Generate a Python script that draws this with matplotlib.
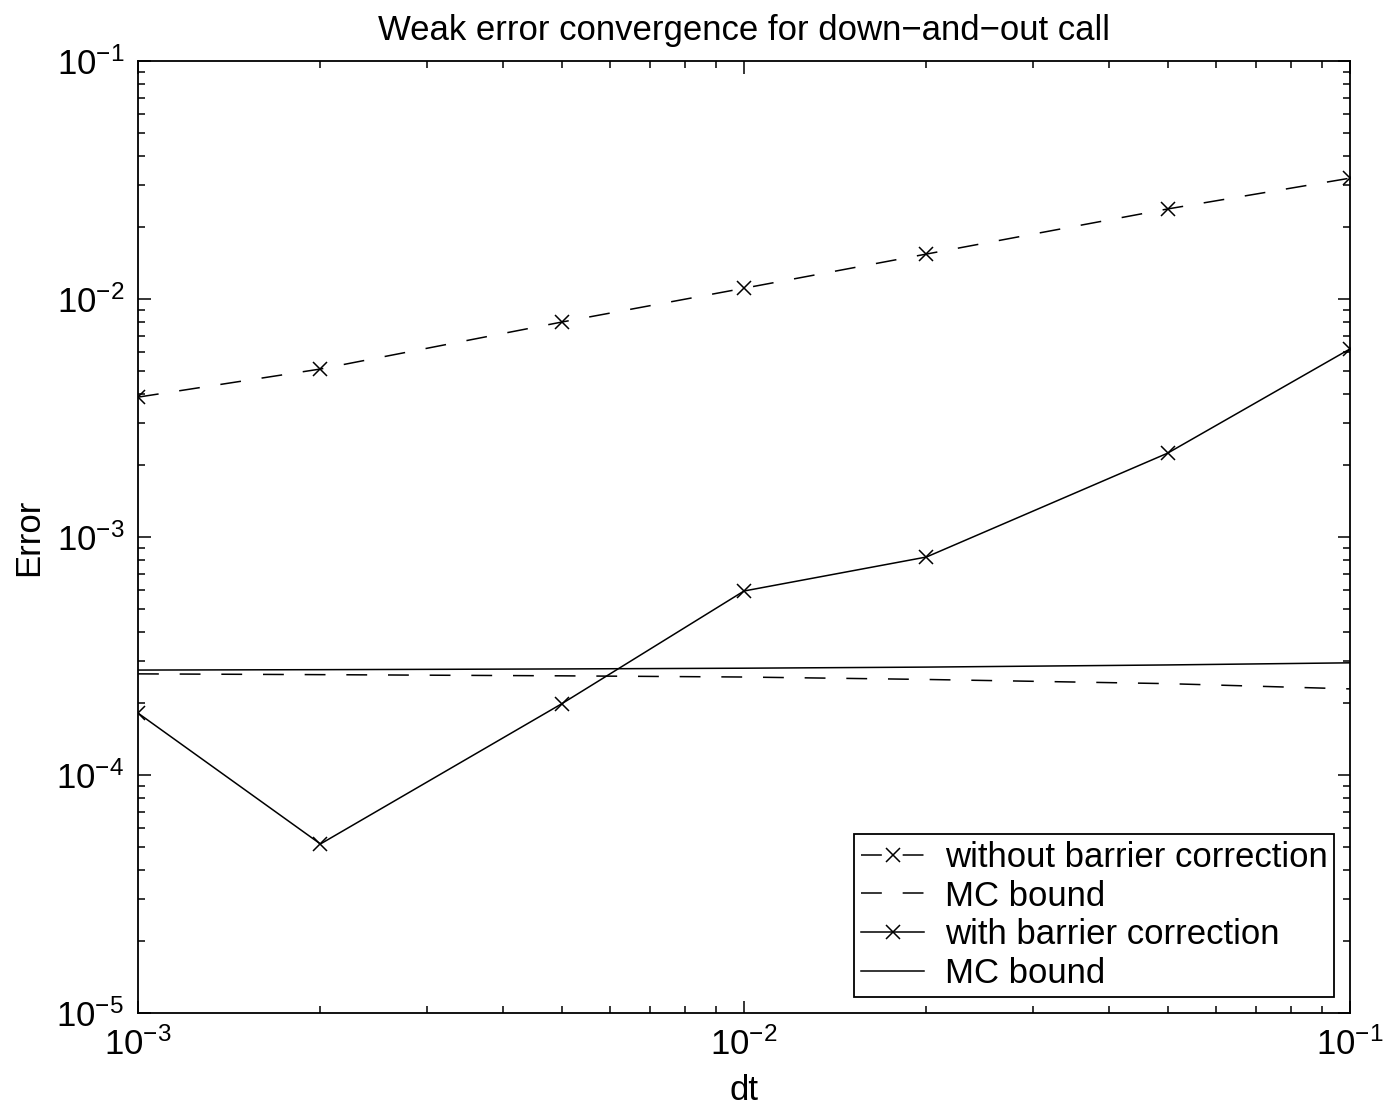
import matplotlib
matplotlib.use("Agg")
import matplotlib.pyplot as plt
from matplotlib.ticker import LogLocator, NullFormatter

plt.rcParams.update({
    "font.family": ["Liberation Sans", "DejaVu Sans"],
    "mathtext.fontset": "custom",
    "mathtext.rm": "Liberation Sans",
    "lines.scale_dashes": False,
})

# data
dt = [0.001, 0.002, 0.005, 0.01, 0.02, 0.05, 0.1]
err_without = [3.87e-3, 5.08e-3, 8.0e-3, 1.11e-2, 1.545e-2, 2.39e-2, 3.22e-2]
mc_without = [2.66e-4, 2.64e-4, 2.61e-4, 2.58e-4, 2.52e-4, 2.42e-4, 2.30e-4]
err_with = [1.82e-4, 5.13e-5, 1.99e-4, 5.93e-4, 8.24e-4, 2.25e-3, 6.17e-3]
mc_with = [2.76e-4, 2.77e-4, 2.79e-4, 2.81e-4, 2.84e-4, 2.90e-4, 2.96e-4]

fig = plt.figure(figsize=(13.87, 11.14), dpi=100)
ax = fig.add_axes([0.0995, 0.0907, 0.8738, 0.8545])

dash = (0, (15, 15))
ax.plot(dt, err_without, color="k", lw=1.1, linestyle=dash, marker="x",
        markersize=10, markeredgewidth=1.1, label="without barrier correction")
ax.plot(dt, mc_without, color="k", lw=1.1, linestyle=dash, label="MC bound")
ax.plot(dt, err_with, color="k", lw=1.1, marker="x", markersize=10,
        markeredgewidth=1.1, label="with barrier correction")
ax.plot(dt, mc_with, color="k", lw=1.1, label="MC bound")

ax.set_xscale("log")
ax.set_yscale("log")
ax.set_xlim(1e-3, 1e-1)
ax.set_ylim(1e-5, 1e-1)

ax.xaxis.set_major_locator(LogLocator(base=10, numticks=10))
ax.yaxis.set_major_locator(LogLocator(base=10, numticks=10))
ax.xaxis.set_minor_locator(LogLocator(base=10, subs=range(2, 10), numticks=10))
ax.yaxis.set_minor_locator(LogLocator(base=10, subs=range(2, 10), numticks=10))
ax.xaxis.set_minor_formatter(NullFormatter())
ax.yaxis.set_minor_formatter(NullFormatter())

ax.tick_params(which="both", direction="in", top=True, right=True,
               labelsize=25, width=1.1)
ax.tick_params(which="major", length=9, pad=10)
ax.tick_params(which="minor", length=5)
for s in ax.spines.values():
    s.set_linewidth(1.3)

ax.set_title("Weak error convergence for down\u2212and\u2212out call",
             fontsize=25, pad=15)
ax.set_xlabel("dt", fontsize=25, labelpad=9)
ax.set_ylabel("Error", fontsize=25, labelpad=8)

leg = ax.legend(loc="lower right", fontsize=25, frameon=True, fancybox=False,
                edgecolor="k", framealpha=1, handlelength=1.8,
                borderaxespad=0.45, labelspacing=0.17, handletextpad=0.6,
                borderpad=0.2, markerscale=1.0)
leg.get_frame().set_linewidth(1.3)

fig.savefig("out.png", dpi=100, facecolor="white")
